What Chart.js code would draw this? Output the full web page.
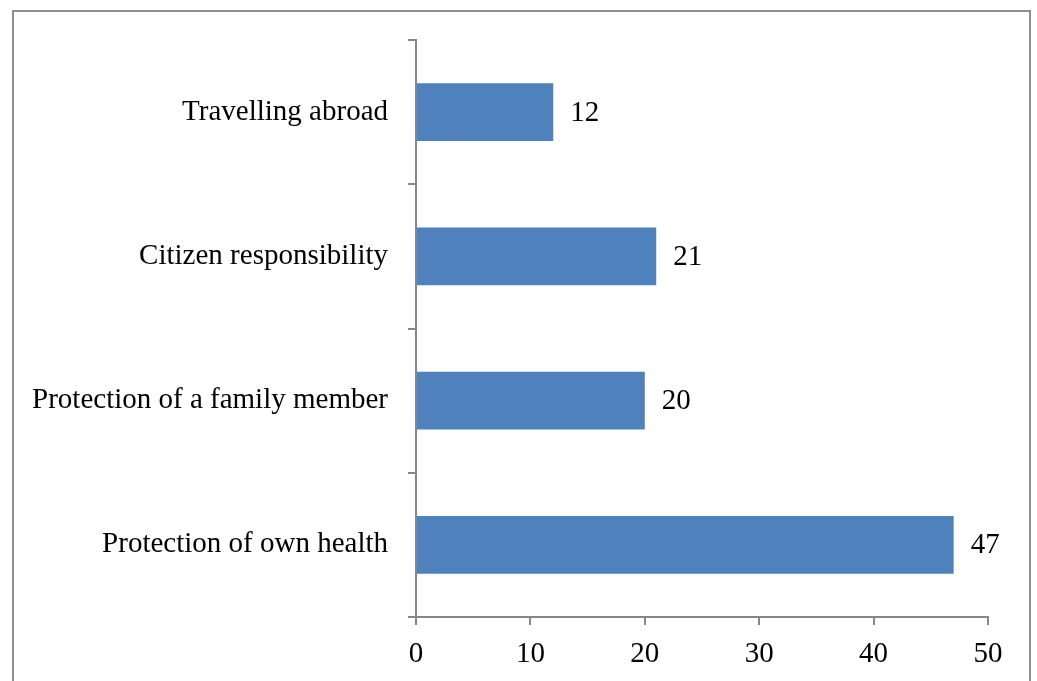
<!DOCTYPE html>
<html>
<head>
<meta charset="utf-8">
<title>Reasons for vaccination</title>
<script src="https://cdn.jsdelivr.net/npm/chart.js@4.4.0/dist/chart.umd.min.js"></script>
<style>
  html, body { margin: 0; padding: 0; background: #ffffff; }
  #wrap { position: relative; width: 1037px; height: 681px; }
</style>
</head>
<body>
<div id="wrap">
  <canvas id="reasons-chart" width="1037" height="681"></canvas>
</div>
<script>
// reasons, top to bottom
const reasons = ['Travelling abroad', 'Citizen responsibility', 'Protection of a family member', 'Protection of own health'];
const counts = [12, 21, 20, 47];
const xTicks = [0, 10, 20, 30, 40, 50];

const axisGray = '#868686';
const barBlue = '#4f81bd';
const labelFont = { family: "'Liberation Serif', 'Times New Roman', serif", size: 29 };

// frame around the whole figure (open at the bottom)
const framePlugin = {
  id: 'frame',
  beforeDraw(chart) {
    const ctx = chart.ctx;
    ctx.save();
    ctx.strokeStyle = '#8e8e8e';
    ctx.lineWidth = 2;
    ctx.beginPath();
    ctx.moveTo(13, 700);
    ctx.lineTo(13, 11);
    ctx.lineTo(1030, 11);
    ctx.lineTo(1030, 700);
    ctx.stroke();
    ctx.restore();
  }
};

// value written just past the end of each bar
const valueLabels = {
  id: 'valueLabels',
  afterDatasetsDraw(chart) {
    const ctx = chart.ctx;
    const meta = chart.getDatasetMeta(0);
    ctx.save();
    ctx.fillStyle = '#000000';
    ctx.font = labelFont.size + 'px ' + labelFont.family;
    ctx.textAlign = 'left';
    ctx.textBaseline = 'middle';
    meta.data.forEach((bar, i) => {
      ctx.fillText(String(counts[i]), bar.x + 17, bar.y + 1);
    });
    ctx.restore();
  }
};

new Chart(document.getElementById('reasons-chart'), {
  type: 'bar',
  data: {
    labels: reasons,
    datasets: [{
      data: counts,
      backgroundColor: barBlue,
      borderWidth: 0,
      barPercentage: 0.4,
      categoryPercentage: 1.0
    }]
  },
  options: {
    indexAxis: 'y',
    responsive: false,
    animation: false,
    layout: { padding: { left: 0, top: 40, right: 49, bottom: 0 } },
    plugins: {
      legend: { display: false },
      tooltip: { enabled: false }
    },
    scales: {
      x: {
        min: 0,
        max: 50,
        afterBuildTicks(scale) {
          scale.ticks = xTicks.map(v => ({ value: v }));
        },
        afterFit(scale) { scale.height = 64; },
        grid: { drawOnChartArea: false, color: axisGray, lineWidth: 2, tickLength: 8 },
        border: { color: axisGray, width: 2 },
        ticks: { color: '#000000', font: labelFont, padding: 12, maxRotation: 0 }
      },
      y: {
        afterFit(scale) { scale.width = 416; },
        grid: { drawOnChartArea: false, color: axisGray, lineWidth: 2, tickLength: 8 },
        border: { color: axisGray, width: 2 },
        ticks: { color: '#000000', font: labelFont, padding: 20 }
      }
    }
  },
  plugins: [framePlugin, valueLabels]
});
</script>
</body>
</html>
